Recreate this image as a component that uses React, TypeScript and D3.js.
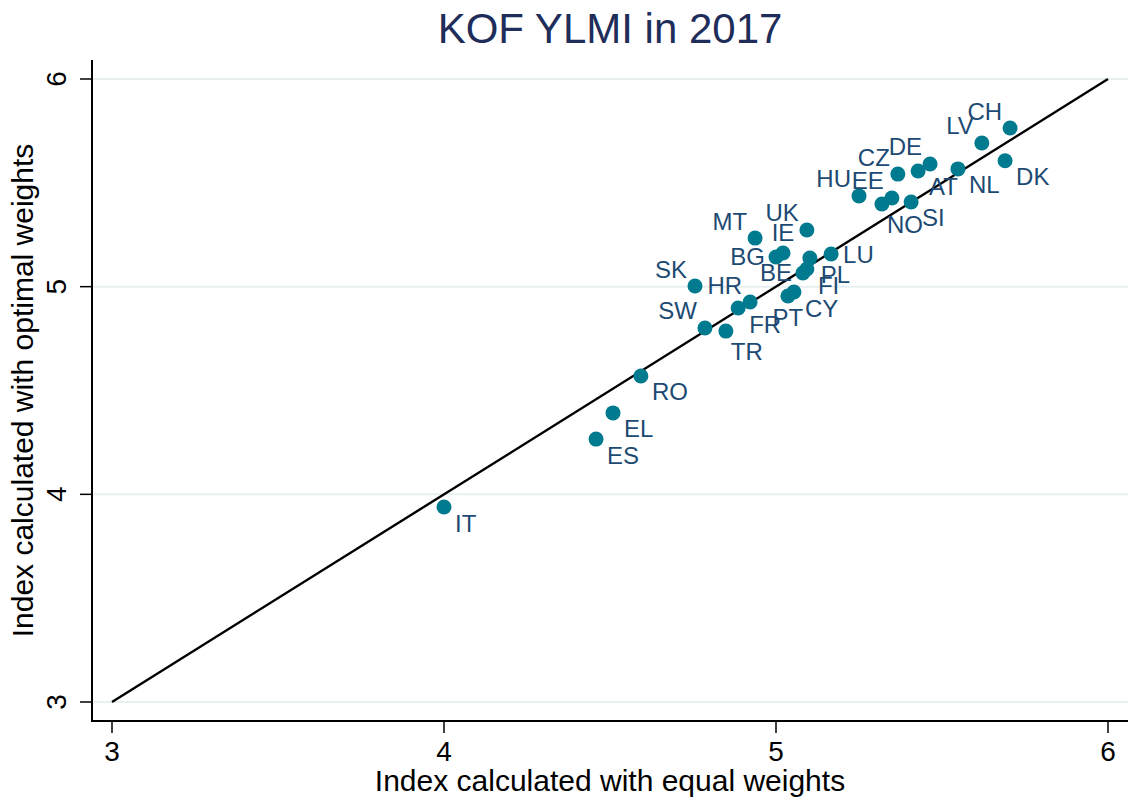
import React, { useEffect, useRef } from 'react';
import * as d3 from 'd3';

// country codes, equal-weight index, optimal-weight index, marker label clock position
const countries = ['IT', 'ES', 'EL', 'RO', 'SW', 'TR', 'FR', 'HR', 'SK', 'PT', 'CY', 'FI', 'BE', 'PL', 'LU',
  'BG', 'IE', 'MT', 'UK', 'HU', 'EE', 'NO', 'SI', 'CZ', 'AT', 'DE', 'NL', 'DK', 'LV', 'CH'];
const equalWeights = [4.0, 4.458, 4.509, 4.593, 4.786, 4.849, 4.886, 4.922, 4.756, 5.036, 5.054, 5.093, 5.081, 5.102, 5.166,
  5.0, 5.021, 4.937, 5.093, 5.25, 5.349, 5.319, 5.407, 5.367, 5.428, 5.464, 5.548, 5.69, 5.62, 5.705];
const optimalWeights = [3.939, 4.266, 4.392, 4.57, 4.801, 4.786, 4.897, 4.926, 5.003, 4.955, 4.974, 5.085, 5.066, 5.138, 5.157,
  5.143, 5.162, 5.234, 5.273, 5.437, 5.427, 5.398, 5.408, 5.542, 5.557, 5.591, 5.567, 5.606, 5.692, 5.764];
const labelPos = [4, 4, 4, 4, 11, 5, 4, 11, 11, 6, 4, 4, 9, 4, 3,
  9, 12, 11, 11, 11, 11, 5, 4, 11, 4, 11, 4, 4, 11, 11];
const ticks = [3, 4, 5, 6];

const FONT = '"Liberation Sans", Arial, Helvetica, sans-serif';

// offsets for Stata-style clock positions
const clock: Record<number, { dx: number; dy: number; anchor: string }> = {
  3: { dx: 12, dy: 0, anchor: 'start' },
  4: { dx: 11, dy: 16, anchor: 'start' },
  5: { dx: 5, dy: 20, anchor: 'start' },
  6: { dx: 0, dy: 21, anchor: 'middle' },
  9: { dx: -11, dy: 0, anchor: 'end' },
  11: { dx: -8, dy: -17, anchor: 'end' },
  12: { dx: 0, dy: -21, anchor: 'middle' },
};

const App = () => {
  const svgRef = useRef<SVGSVGElement | null>(null);

  useEffect(() => {
    if (!svgRef.current) return;
    const width = 1128;
    const height = 800;
    const left = 92;
    const bottom = 721;

    const svg = d3.select(svgRef.current).attr('width', width).attr('height', height);
    svg.selectAll('*').remove();

    const x = d3.scaleLinear().domain([3, 6]).range([112, 1108]);
    const y = d3.scaleLinear().domain([3, 6]).range([702, 79]);

    svg.append('rect').attr('width', width).attr('height', height).attr('fill', '#fff');

    // grid
    svg.append('g')
      .selectAll('line')
      .data(ticks)
      .enter()
      .append('line')
      .attr('x1', left)
      .attr('x2', width)
      .attr('y1', (d) => y(d))
      .attr('y2', (d) => y(d))
      .attr('stroke', '#e7eff1')
      .attr('stroke-width', 2);

    // axes
    svg.append('line').attr('x1', left).attr('x2', left).attr('y1', 60).attr('y2', bottom + 1)
      .attr('stroke', '#000').attr('stroke-width', 2);
    svg.append('line').attr('x1', left - 1).attr('x2', width).attr('y1', bottom).attr('y2', bottom)
      .attr('stroke', '#000').attr('stroke-width', 2);

    const yAxis = svg.append('g');
    yAxis.selectAll('line').data(ticks).enter().append('line')
      .attr('x1', left - 12).attr('x2', left)
      .attr('y1', (d) => y(d)).attr('y2', (d) => y(d))
      .attr('stroke', '#000').attr('stroke-width', 1.5);
    yAxis.selectAll('text').data(ticks).enter().append('text')
      .attr('transform', (d) => `translate(56, ${y(d)}) rotate(-90)`)
      .attr('text-anchor', 'middle')
      .attr('dominant-baseline', 'central')
      .attr('font-family', FONT)
      .attr('font-size', 28)
      .text((d) => d);

    const xAxis = svg.append('g');
    xAxis.selectAll('line').data(ticks).enter().append('line')
      .attr('x1', (d) => x(d)).attr('x2', (d) => x(d))
      .attr('y1', bottom).attr('y2', bottom + 12)
      .attr('stroke', '#000').attr('stroke-width', 1.5);
    xAxis.selectAll('text').data(ticks).enter().append('text')
      .attr('x', (d) => x(d))
      .attr('y', 761)
      .attr('text-anchor', 'middle')
      .attr('font-family', FONT)
      .attr('font-size', 28)
      .text((d) => d);

    // 45 degree line
    svg.append('line')
      .attr('x1', x(3)).attr('y1', y(3))
      .attr('x2', x(6)).attr('y2', y(6))
      .attr('stroke', '#000').attr('stroke-width', 2.4);

    // markers
    const idx = d3.range(countries.length);
    svg.append('g')
      .selectAll('circle')
      .data(idx)
      .enter()
      .append('circle')
      .attr('cx', (i) => x(equalWeights[i]))
      .attr('cy', (i) => y(optimalWeights[i]))
      .attr('r', 7.5)
      .attr('fill', '#007a8e');

    svg.append('g')
      .selectAll('text')
      .data(idx)
      .enter()
      .append('text')
      .attr('x', (i) => x(equalWeights[i]) + clock[labelPos[i]].dx)
      .attr('y', (i) => y(optimalWeights[i]) + clock[labelPos[i]].dy)
      .attr('text-anchor', (i) => clock[labelPos[i]].anchor)
      .attr('dominant-baseline', 'central')
      .attr('font-family', FONT)
      .attr('font-size', 24)
      .attr('fill', '#1d4a72')
      .text((i) => countries[i]);

    // titles
    svg.append('text')
      .attr('x', 610).attr('y', 43)
      .attr('text-anchor', 'middle')
      .attr('font-family', FONT)
      .attr('font-size', 42)
      .attr('fill', '#1e2d59')
      .text('KOF YLMI in 2017');
    svg.append('text')
      .attr('x', 610).attr('y', 791)
      .attr('text-anchor', 'middle')
      .attr('font-family', FONT)
      .attr('font-size', 30)
      .text('Index calculated with equal weights');
    svg.append('text')
      .attr('transform', `translate(22, ${(y(3) + y(6)) / 2}) rotate(-90)`)
      .attr('text-anchor', 'middle')
      .attr('dominant-baseline', 'central')
      .attr('font-family', FONT)
      .attr('font-size', 30)
      .text('Index calculated with optimal weights');
  }, []);

  return (
    <div style={{ position: 'absolute', left: 0, top: 0 }}>
      <svg ref={svgRef} style={{ display: 'block' }}></svg>
    </div>
  );
};

export default App;
